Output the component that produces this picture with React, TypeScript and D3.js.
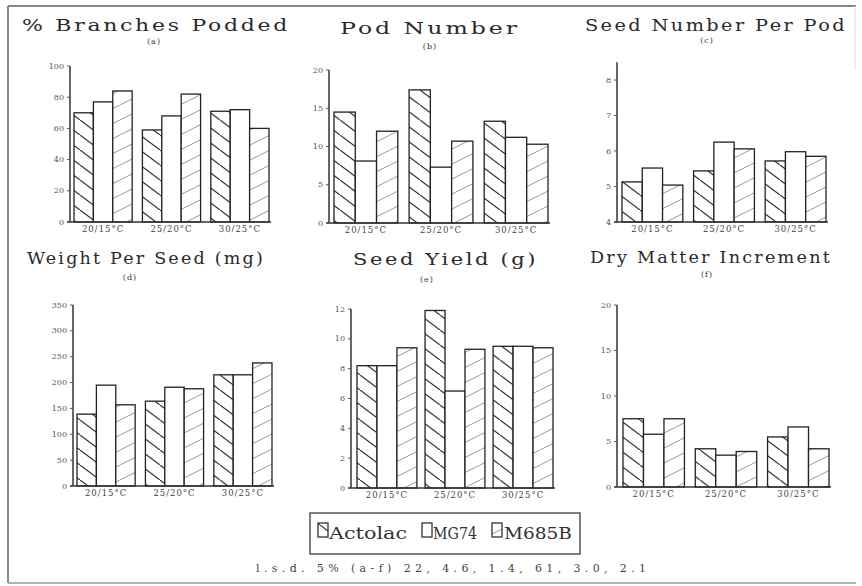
import React from "react";
import * as d3 from "d3";

// categories
const temps = ["20/15°C", "25/20°C", "30/25°C"];
const cultivars = ["Actolac", "MG74", "M685B"];

// values per temperature regime, in cultivar order
const branchesPodded = [[70, 77, 84], [59, 68, 82], [71, 72, 60]];
const podNumber = [[14.5, 8.1, 12.0], [17.4, 7.3, 10.7], [13.3, 11.2, 10.3]];
const seedsPerPod = [[5.13, 5.52, 5.04], [5.44, 6.25, 6.06], [5.72, 5.98, 5.85]];
const seedWeight = [[139, 195, 157], [164, 191, 188], [215, 215, 238]];
const seedYield = [[8.2, 8.2, 9.4], [11.9, 6.5, 9.3], [9.5, 9.5, 9.4]];
const dryMatter = [[7.5, 5.8, 7.5], [4.2, 3.5, 3.9], [5.5, 6.6, 4.2]];

// tick labels
const ticksA = [0, 20, 40, 60, 80, 100];
const ticksB = [0, 5, 10, 15, 20];
const ticksC = [4, 5, 6, 7, 8];
const ticksD = [0, 50, 100, 150, 200, 250, 300, 350];
const ticksE = [0, 2, 4, 6, 8, 10, 12];
const ticksF = [0, 5, 10, 15, 20];

const lsdNote = "l.s.d. 5% (a-f) 22, 4.6, 1.4, 61, 3.0, 2.1";

const fills = ["url(#hatchBack)", "#fff", "url(#hatchFwd)"];
const serif = "'DejaVu Serif', 'Liberation Serif', serif";

type PanelProps = {
  title: string;
  sub: string;
  data: number[][];
  ticks: number[];
  domain: [number, number];
  axisMax?: number;
  axisX: number;
  axisEnd: number;
  yBottom: number;
  yTop: number;
  barRange: [number, number];
  padInner: number;
  titleX: [number, number];
  titleY: number;
  subX: number;
  subY: number;
};

function Panel(p: PanelProps) {
  const y = d3.scaleLinear().domain(p.domain).range([p.yBottom, p.yTop]);
  const x0 = d3.scaleBand().domain(temps).range(p.barRange).paddingInner(p.padInner);
  const x1 = d3.scaleBand().domain(cultivars).range([0, x0.bandwidth()]);
  const top = y(p.axisMax ?? p.domain[1]);

  return (
    <g>
      <text x={p.titleX[0]} y={p.titleY} textLength={p.titleX[1] - p.titleX[0]}
        lengthAdjust="spacingAndGlyphs" fontSize={16} letterSpacing={2}
        fontFamily={serif} fill="#2a2a2a">
        {p.title}
      </text>
      <text x={p.subX} y={p.subY} textAnchor="middle" fontSize={8}
        fontFamily={serif} fill="#333" letterSpacing={1}>
        {p.sub}
      </text>

      {temps.map((t, i) =>
        cultivars.map((c, j) => {
          const v = p.data[i][j];
          return (
            <rect key={t + c} x={x0(t)! + x1(c)!} y={y(v)} width={x1.bandwidth()}
              height={p.yBottom - y(v)} fill={fills[j]} stroke="#222" strokeWidth={1.3} />
          );
        })
      )}

      <line x1={p.axisX} x2={p.axisX} y1={p.yBottom} y2={top} stroke="#333" strokeWidth={1.5} />
      <line x1={p.axisX - 3} x2={p.axisEnd} y1={p.yBottom} y2={p.yBottom} stroke="#333" strokeWidth={1.5} />
      {p.ticks.map((t) => (
        <g key={t}>
          <line x1={p.axisX - 3} x2={p.axisX} y1={y(t)} y2={y(t)} stroke="#555" />
          <text x={p.axisX - 6} y={y(t)} dy="0.33em" textAnchor="end" fontSize={8}
            fontFamily={serif} fill="#555">
            {t}
          </text>
        </g>
      ))}
      {temps.map((t) => (
        <text key={t} x={x0(t)! + x0.bandwidth() / 2} y={p.yBottom + 10} textAnchor="middle"
          fontSize={8.5} fontFamily={serif} fill="#444" letterSpacing={1}>
          {t}
        </text>
      ))}
    </g>
  );
}

export default function App() {
  return (
    <svg width={862} height={586} style={{ position: "absolute", left: 0, top: 0, background: "#fff" }}>
      <defs>
        <pattern id="hatchBack" patternUnits="userSpaceOnUse" width={20} height={15}>
          <rect width={20} height={15} fill="#fff" />
          <path d="M-2,-1.5 L22,16.5" stroke="#333" strokeWidth={1.2} />
        </pattern>
        <pattern id="hatchFwd" patternUnits="userSpaceOnUse" width={30} height={15}>
          <rect width={30} height={15} fill="#fff" />
          <path d="M-2,16 L32,-1" stroke="#999" strokeWidth={1} />
        </pattern>
      </defs>

      {/* page frame */}
      <line x1={8} x2={856} y1={6} y2={6} stroke="#888" strokeWidth={2} />
      <line x1={8} x2={8} y1={6} y2={583} stroke="#888" strokeWidth={2} />
      <line x1={8} x2={856} y1={583} y2={583} stroke="#999" strokeWidth={1.5} />
      <line x1={855} x2={855} y1={6} y2={70} stroke="#ddd" strokeWidth={1} />

      <Panel title="% Branches Podded" sub="(a)" data={branchesPodded} ticks={ticksA}
        domain={[0, 100]} axisX={70} axisEnd={271} yBottom={222} yTop={66}
        barRange={[74, 269]} padInner={0.15} titleX={[22, 290]} titleY={31} subX={154} subY={44} />
      <Panel title="Pod Number" sub="(b)" data={podNumber} ticks={ticksB}
        domain={[0, 20]} axisX={329} axisEnd={550} yBottom={223} yTop={70}
        barRange={[334, 548]} padInner={0.15} titleX={[340, 520]} titleY={34} subX={430} subY={49} />
      <Panel title="Seed Number Per Pod" sub="(c)" data={seedsPerPod} ticks={ticksC}
        domain={[4, 8]} axisMax={8.5} axisX={617} axisEnd={828} yBottom={222} yTop={80}
        barRange={[622, 826]} padInner={0.15} titleX={[585, 847]} titleY={31} subX={707} subY={43} />
      <Panel title="Weight Per Seed (mg)" sub="(d)" data={seedWeight} ticks={ticksD}
        domain={[0, 350]} axisX={73} axisEnd={274} yBottom={486} yTop={305}
        barRange={[77, 272]} padInner={0.15} titleX={[27, 265]} titleY={264} subX={130} subY={280} />
      <Panel title="Seed Yield (g)" sub="(e)" data={seedYield} ticks={ticksE}
        domain={[0, 12]} axisX={351} axisEnd={555} yBottom={488} yTop={309}
        barRange={[357, 553]} padInner={0.12} titleX={[353, 538]} titleY={265} subX={427} subY={282} />
      <Panel title="Dry Matter Increment" sub="(f)" data={dryMatter} ticks={ticksF}
        domain={[0, 20]} axisX={617} axisEnd={831} yBottom={487} yTop={305}
        barRange={[623, 829]} padInner={0.15} titleX={[590, 832]} titleY={263} subX={707} subY={277} />

      {/* legend */}
      <rect x={310} y={513} width={270} height={41} fill="none" stroke="#555" strokeWidth={1.5} />
      {cultivars.map((c, j) => {
        const sx = [318, 422, 492][j];
        const tx = [329, 433, 504][j];
        const tw = [78, 44, 68][j];
        return (
          <g key={c}>
            <rect x={sx} y={523} width={10} height={14} fill={fills[j]} stroke="#333" strokeWidth={1.3} />
            <text x={tx} y={539} textLength={tw} lengthAdjust="spacingAndGlyphs" fontSize={17}
              fontFamily={serif} fill="#333">
              {c}
            </text>
          </g>
        );
      })}

      <text x={256} y={572} textLength={390} lengthAdjust="spacing" fontSize={11}
        fontFamily={serif} fill="#444">
        {lsdNote}
      </text>
    </svg>
  );
}
